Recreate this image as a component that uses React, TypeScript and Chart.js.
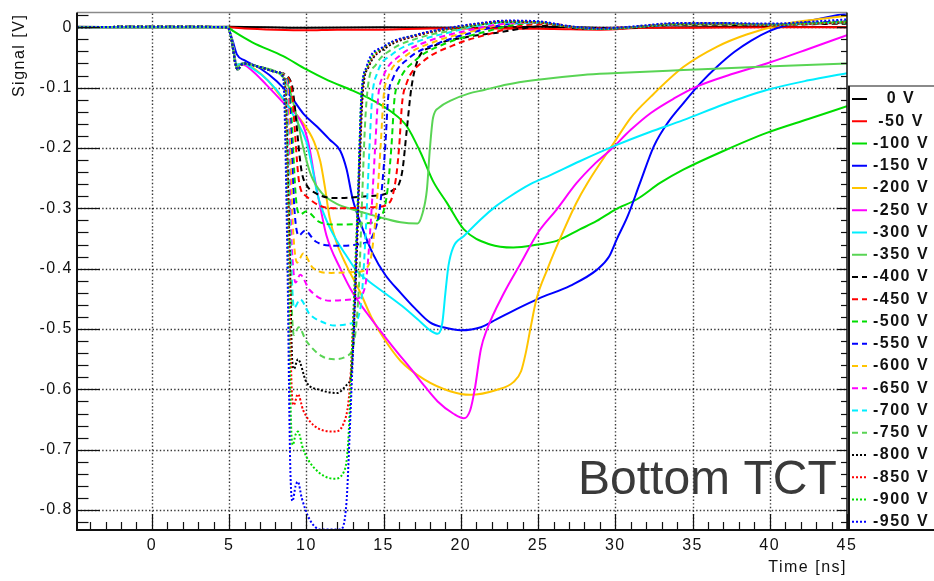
import React, { useEffect, useRef } from "react";
import { Chart, registerables } from "chart.js";

Chart.register(...registerables);

type P = [number, number];

// ---------------- axis ranges & ticks ----------------
const X_MIN = -4.85;
const X_MAX = 45;
const Y_MIN = -0.833;
const Y_MAX = 0.0226;

const xTickValues = [0, 5, 10, 15, 20, 25, 30, 35, 40, 45];
const xTickLabels = ["0", "5", "10", "15", "20", "25", "30", "35", "40", "45"];
const yTickValues = [-0.8, -0.7, -0.6, -0.5, -0.4, -0.3, -0.2, -0.1, 0];
const yTickLabels = ["-0.8", "-0.7", "-0.6", "-0.5", "-0.4", "-0.3", "-0.2", "-0.1", "0"];

const legendLabels = [
  "0 V", "-50 V", "-100 V", "-150 V", "-200 V", "-250 V", "-300 V", "-350 V",
  "-400 V", "-450 V", "-500 V", "-550 V", "-600 V", "-650 V", "-700 V", "-750 V",
  "-800 V", "-850 V", "-900 V", "-950 V",
];

// ---------------- data (time ns, signal V) ----------------
const v0: P[] = [[-4.85, 0.001], [0, 0], [5, 0.001], [10, -0.001], [15, 0], [20, -0.001], [25, 0.001], [30, -0.001], [35, 0], [40, 0.001], [45, 0]];
const v50: P[] = [[-4.85, 0], [5, 0], [6, -0.002], [8, -0.004], [10, -0.005], [12, -0.004], [15, -0.004], [18, -0.002], [22, -0.002], [26, -0.003], [29, -0.004], [32, -0.001], [35, -0.001], [40, 0], [45, 0]];
const v100: P[] = [[-4.85, 0], [4.9, 0], [5.3, -0.007], [6.5, -0.025], [8.5, -0.048], [10, -0.07], [11.4, -0.088], [13, -0.105], [14.3, -0.121], [15.5, -0.14], [16.5, -0.164], [17.4, -0.208], [18.2, -0.255], [19.1, -0.291], [20.2, -0.335], [21.9, -0.36], [23.4, -0.365], [25, -0.36], [26.2, -0.354], [27.7, -0.335], [28.8, -0.321], [30, -0.302], [31.4, -0.285], [32.9, -0.258], [34.4, -0.236], [37, -0.205], [39.8, -0.175], [42.5, -0.152], [45, -0.131]];
const v150: P[] = [[-4.85, 0], [4.9, 0], [5.2, -0.02], [5.5, -0.045], [6, -0.055], [7, -0.068], [8.1, -0.09], [9, -0.115], [9.8, -0.143], [10.7, -0.165], [11.5, -0.186], [12.2, -0.205], [12.6, -0.235], [13, -0.285], [13.5, -0.324], [14.3, -0.375], [15.1, -0.41], [16.1, -0.44], [17, -0.465], [18, -0.489], [19, -0.498], [20, -0.502], [21.3, -0.497], [22.3, -0.484], [23.6, -0.467], [25, -0.45], [27.1, -0.428], [28.8, -0.402], [29.6, -0.38], [30.1, -0.351], [30.8, -0.313], [31.6, -0.258], [32.5, -0.197], [33.4, -0.158], [34.4, -0.126], [35.5, -0.093], [36.6, -0.065], [37.7, -0.041], [38.8, -0.022], [40, -0.006], [40.9, 0.002], [43, 0.013], [45, 0.023]];
const v200: P[] = [[-4.85, 0], [4.9, 0], [5.2, -0.025], [5.5, -0.062], [5.9, -0.06], [6.7, -0.07], [7.5, -0.088], [8.5, -0.12], [9.8, -0.159], [10.5, -0.19], [10.9, -0.222], [11.2, -0.265], [11.5, -0.315], [12, -0.36], [12.6, -0.395], [13.5, -0.44], [14.2, -0.48], [15, -0.515], [16.1, -0.553], [17.6, -0.583], [19.3, -0.603], [20.6, -0.609], [22.3, -0.601], [23.4, -0.588], [23.9, -0.57], [24.2, -0.54], [24.5, -0.5], [24.9, -0.45], [25.6, -0.401], [26.6, -0.34], [27.5, -0.29], [28.2, -0.258], [29.9, -0.192], [31, -0.15], [32.3, -0.115], [34.4, -0.066], [36.6, -0.032], [38.5, -0.012], [40.9, 0.005], [43, 0.013], [45, 0.019]];
const v250: P[] = [[-4.85, 0], [4.9, 0], [5.2, -0.025], [5.5, -0.062], [5.9, -0.062], [6.4, -0.07], [7.4, -0.095], [8.5, -0.125], [9.8, -0.164], [10.2, -0.2], [10.5, -0.245], [10.9, -0.298], [11.3, -0.345], [12.2, -0.4], [13, -0.44], [13.9, -0.473], [15, -0.51], [15.9, -0.539], [16.8, -0.567], [17.6, -0.593], [18.5, -0.62], [19.5, -0.64], [20.2, -0.648], [20.6, -0.635], [20.9, -0.6], [21.3, -0.533], [21.7, -0.5], [22.8, -0.44], [23.9, -0.39], [25, -0.34], [26.2, -0.302], [27.5, -0.258], [28.6, -0.228], [29.7, -0.203], [31, -0.17], [32.3, -0.142], [33.8, -0.118], [35.3, -0.098], [37.5, -0.078], [39.8, -0.06], [42.5, -0.036], [45, -0.013]];
const v300: P[] = [[-4.85, 0], [4.9, 0], [5.2, -0.025], [5.5, -0.062], [5.9, -0.06], [6.5, -0.068], [7.5, -0.088], [8.5, -0.118], [9.2, -0.148], [10, -0.19], [10.4, -0.235], [10.7, -0.275], [11.3, -0.32], [12, -0.355], [12.6, -0.379], [13.3, -0.405], [14, -0.42], [15, -0.439], [16.2, -0.462], [17.2, -0.484], [18, -0.502], [18.5, -0.508], [18.8, -0.49], [19, -0.44], [19.2, -0.395], [19.5, -0.365], [20.2, -0.346], [21.3, -0.318], [22.3, -0.296], [23.2, -0.28], [24.5, -0.26], [25.8, -0.245], [27.7, -0.222], [30.1, -0.195], [32.2, -0.174], [34.4, -0.154], [37, -0.128], [39.8, -0.104], [42.5, -0.088], [45, -0.076]];
const v350: P[] = [[-4.85, 0], [4.9, 0], [5.2, -0.025], [5.5, -0.065], [5.9, -0.06], [7, -0.066], [8.3, -0.078], [8.8, -0.095], [9.3, -0.14], [9.8, -0.2], [10.3, -0.245], [11, -0.275], [12, -0.293], [13, -0.302], [14.5, -0.313], [16.1, -0.323], [17.2, -0.325], [17.5, -0.31], [17.8, -0.27], [18, -0.2], [18.2, -0.15], [18.6, -0.133], [19.3, -0.122], [20.5, -0.11], [21.5, -0.104], [23, -0.095], [24.7, -0.088], [27.9, -0.079], [30.1, -0.076], [34.4, -0.071], [39.8, -0.065], [45, -0.06]];

// common onset of the fast (dashed / dotted) signals
const groupOnset: P[] = [[-4.85, 0], [0, 0.001], [4.9, 0], [5.15, -0.02], [5.4, -0.06], [5.55, -0.07], [5.9, -0.06], [7, -0.066], [8.2, -0.075]];

const v400: P[] = [...groupOnset, [9, -0.09], [9.7, -0.24], [10, -0.261], [10.6, -0.275], [11.8, -0.283], [13.9, -0.28], [15.6, -0.27], [16.2, -0.24], [16.5, -0.17], [16.8, -0.1], [17.2, -0.055], [18.2, -0.032], [20.4, -0.016], [22.6, -0.008], [24.5, 0], [26, 0.003], [28, -0.003], [31, -0.001], [34, 0.004], [37, 0.004], [40, 0.003], [42.5, 0.005], [45, 0.006]];
const v450: P[] = [...groupOnset, [8.95, -0.09], [9.55, -0.26], [10, -0.28], [10.9, -0.296], [12, -0.3], [14.5, -0.298], [15.4, -0.29], [15.8, -0.25], [16, -0.2], [16.2, -0.125], [16.5, -0.092], [17.5, -0.058], [19.5, -0.03], [22, -0.01], [24, 0.003], [26, 0.005], [28, -0.002], [31, 0], [34, 0.005], [37, 0.005], [40, 0.004], [42.5, 0.006], [45, 0.007]];
const v500: P[] = [...groupOnset, [8.85, -0.09], [9.35, -0.29], [9.6, -0.31], [10, -0.305], [10.8, -0.322], [11.8, -0.327], [13.8, -0.325], [14.8, -0.315], [15.2, -0.28], [15.5, -0.2], [15.7, -0.12], [16, -0.09], [17, -0.056], [19, -0.027], [21.5, -0.008], [23.5, 0.004], [25, 0.007], [27, 0.001], [29, -0.003], [31, 0], [34, 0.005], [37, 0.005], [40, 0.004], [42.5, 0.006], [45, 0.008]];
const v550: P[] = [...groupOnset, [8.8, -0.09], [9.25, -0.31], [9.5, -0.345], [9.9, -0.337], [10.6, -0.355], [11.8, -0.362], [13.7, -0.358], [14.3, -0.345], [14.75, -0.3], [15.1, -0.2], [15.3, -0.115], [15.6, -0.085], [16.6, -0.052], [18.6, -0.026], [21, -0.007], [23, 0.005], [25, 0.008], [27, 0.001], [29, -0.003], [31, 0], [34, 0.005], [37, 0.006], [40, 0.004], [42.5, 0.007], [45, 0.01]];
const v600: P[] = [...groupOnset, [8.75, -0.09], [9.15, -0.34], [9.4, -0.39], [9.8, -0.375], [10.4, -0.398], [11.6, -0.407], [13.4, -0.405], [14.1, -0.39], [14.5, -0.31], [14.8, -0.2], [15, -0.115], [15.3, -0.082], [16.3, -0.05], [18.3, -0.024], [21, -0.005], [23, 0.006], [25, 0.008], [27, 0.001], [29, -0.003], [31, 0], [34, 0.005], [37, 0.006], [40, 0.004], [42.5, 0.006], [45, 0.008]];
const v650: P[] = [...groupOnset, [8.7, -0.09], [9.05, -0.36], [9.3, -0.423], [9.6, -0.41], [10.2, -0.435], [11.5, -0.453], [13.2, -0.45], [13.8, -0.43], [14.15, -0.33], [14.45, -0.2], [14.65, -0.115], [15, -0.08], [16, -0.048], [18, -0.022], [20.5, -0.005], [22.5, 0.005], [25, 0.008], [27, 0.001], [29, -0.003], [31, 0], [34, 0.005], [37, 0.006], [40, 0.004], [42.5, 0.006], [45, 0.008]];
const v700: P[] = [...groupOnset, [8.66, -0.09], [9, -0.38], [9.2, -0.465], [9.6, -0.451], [10.2, -0.475], [11, -0.488], [11.8, -0.494], [13, -0.49], [13.5, -0.465], [13.8, -0.36], [14.05, -0.22], [14.25, -0.12], [14.6, -0.075], [15.5, -0.046], [17.5, -0.021], [19.5, -0.007], [21, 0.002], [23, 0.008], [25, 0.008], [27, 0.001], [29, -0.003], [31, 0], [34, 0.005], [37, 0.006], [40, 0.004], [42.5, 0.006], [45, 0.008]];
const v750: P[] = [...groupOnset, [8.62, -0.088], [8.95, -0.38], [9.1, -0.49], [9.2, -0.51], [9.5, -0.497], [10, -0.52], [11, -0.545], [11.8, -0.55], [12.6, -0.545], [13.1, -0.52], [13.4, -0.43], [13.6, -0.29], [13.8, -0.16], [14, -0.095], [14.5, -0.062], [15.5, -0.037], [17.5, -0.016], [19.5, -0.005], [21, 0.003], [23, 0.009], [25, 0.008], [27, 0.001], [29, -0.003], [31, 0], [34, 0.005], [37, 0.006], [40, 0.004], [42.5, 0.006], [45, 0.008]];
const v800: P[] = [...groupOnset, [8.58, -0.085], [8.9, -0.35], [9.08, -0.55], [9.2, -0.566], [9.45, -0.55], [10, -0.588], [10.9, -0.601], [12, -0.606], [12.6, -0.593], [12.9, -0.575], [13.2, -0.42], [13.45, -0.23], [13.65, -0.11], [14.05, -0.065], [15.1, -0.035], [17.3, -0.013], [19, -0.004], [21, 0.004], [23, 0.009], [25, 0.008], [27, 0.001], [29, -0.003], [31, 0], [34, 0.005], [37, 0.006], [40, 0.004], [42.5, 0.006], [45, 0.008]];
const v850: P[] = [...groupOnset, [8.55, -0.085], [8.85, -0.35], [9.05, -0.6], [9.18, -0.626], [9.45, -0.608], [9.8, -0.635], [10.5, -0.66], [11.8, -0.67], [12.4, -0.657], [12.8, -0.6], [13.1, -0.45], [13.4, -0.25], [13.6, -0.115], [14, -0.065], [15, -0.034], [17.2, -0.013], [19, -0.003], [21, 0.005], [23, 0.01], [25, 0.008], [27, 0.001], [29, -0.003], [31, 0], [34, 0.006], [37, 0.006], [40, 0.004], [42.5, 0.006], [45, 0.009]];
const v900: P[] = [...groupOnset, [8.52, -0.085], [8.8, -0.35], [9, -0.65], [9.12, -0.692], [9.3, -0.675], [9.45, -0.67], [9.8, -0.7], [10.5, -0.73], [11.8, -0.748], [12.4, -0.738], [12.7, -0.69], [13.05, -0.47], [13.35, -0.27], [13.55, -0.12], [13.95, -0.065], [15, -0.033], [17.2, -0.012], [19, -0.003], [21, 0.005], [23, 0.01], [25, 0.009], [27, 0.001], [29, -0.003], [31, 0], [34, 0.006], [37, 0.006], [40, 0.005], [42.5, 0.007], [45, 0.01]];
const v950: P[] = [...groupOnset, [8.5, -0.085], [8.75, -0.35], [8.95, -0.72], [9.1, -0.785], [9.3, -0.76], [9.45, -0.753], [9.7, -0.78], [10.2, -0.815], [10.9, -0.832], [12.2, -0.832], [12.6, -0.786], [12.8, -0.675], [13.1, -0.48], [13.35, -0.28], [13.55, -0.12], [13.9, -0.065], [15, -0.032], [17.2, -0.012], [19, -0.002], [21, 0.006], [23, 0.011], [25, 0.01], [27, 0.002], [29, -0.002], [31, 0.001], [34, 0.007], [37, 0.007], [40, 0.006], [42.5, 0.009], [45, 0.013]];

const seriesData: P[][] = [v0, v50, v100, v150, v200, v250, v300, v350, v400, v450, v500, v550, v600, v650, v700, v750, v800, v850, v900, v950];

// ---------------- styles ----------------
const palette = ["#000000", "#ff0000", "#00dd00", "#0000ff", "#ffc400", "#ff00ff", "#00eeff", "#59d454"];
const dashStyles: number[][] = [[], [6, 4], [2, 2]];
const styleOf = (i: number) => ({ color: palette[i % 8], dash: dashStyles[Math.floor(i / 8)] });

const FONT = '"Liberation Sans", Arial, Helvetica, sans-serif';

const rootPlugin = {
  id: "rootStyle",
  beforeDraw(chart: any) {
    const ctx = chart.ctx;
    ctx.save();
    ctx.fillStyle = "#ffffff";
    ctx.fillRect(0, 0, chart.width, chart.height);
    ctx.restore();
    try { ctx.letterSpacing = "1.5px"; } catch (e) { /* ignore */ }
  },
  beforeDatasetsDraw(chart: any) {
    const ctx = chart.ctx;
    const { left, right, top, bottom } = chart.chartArea;
    const xs = chart.scales.x;
    const ys = chart.scales.y;
    ctx.save();
    ctx.strokeStyle = "rgba(20,20,20,0.85)";
    ctx.lineWidth = 1.4;
    ctx.setLineDash([1.4, 2.2]);
    for (const v of xTickValues) {
      if (v >= X_MAX) continue;
      const px = Math.round(xs.getPixelForValue(v)) + 0.5;
      ctx.beginPath(); ctx.moveTo(px, top); ctx.lineTo(px, bottom); ctx.stroke();
    }
    for (const v of yTickValues) {
      const py = Math.round(ys.getPixelForValue(v)) + 0.5;
      ctx.beginPath(); ctx.moveTo(left, py); ctx.lineTo(right, py); ctx.stroke();
    }
    ctx.restore();
  },
  afterDatasetsDraw(chart: any) {
    const ctx = chart.ctx;
    const { left, right, top, bottom } = chart.chartArea;
    const xs = chart.scales.x;
    const ys = chart.scales.y;
    ctx.save();
    ctx.setLineDash([]);
    // frame
    ctx.strokeStyle = "#8a8a8a";
    ctx.lineWidth = 1.5;
    ctx.beginPath(); ctx.moveTo(left, top - 1); ctx.lineTo(right, top - 1); ctx.stroke();
    ctx.strokeStyle = "#111";
    ctx.lineWidth = 2;
    ctx.beginPath(); ctx.moveTo(left, top - 1); ctx.lineTo(left, bottom); ctx.lineTo(right + 1, bottom); ctx.stroke();
    ctx.lineWidth = 1.5;
    ctx.beginPath(); ctx.moveTo(right, top - 1); ctx.lineTo(right, bottom); ctx.stroke();
    // ticks
    ctx.lineWidth = 1.2;
    ctx.strokeStyle = "#111";
    for (let k = Math.ceil(X_MIN); k <= X_MAX; k++) {
      const major = k % 5 === 0;
      const len = major ? 16 : 8;
      const px = Math.round(xs.getPixelForValue(k)) + 0.5;
      ctx.beginPath(); ctx.moveTo(px, bottom); ctx.lineTo(px, bottom - len); ctx.stroke();
    }
    for (let k = -41; k <= 1; k++) {
      const major = k % 5 === 0;
      const py = Math.round(ys.getPixelForValue(k * 0.02)) + 0.5;
      const len = major ? 23 : 11.5;
      ctx.beginPath(); ctx.moveTo(left, py); ctx.lineTo(left + len, py); ctx.stroke();
      const rlen = major ? 10 : 6;
      ctx.beginPath(); ctx.moveTo(right, py); ctx.lineTo(right - rlen, py); ctx.stroke();
    }
    // legend box
    const lx = 848;
    const ltop = 86;
    ctx.fillStyle = "#ffffff";
    ctx.fillRect(lx + 1, ltop, chart.width - lx, bottom - ltop);
    ctx.strokeStyle = "#8a8a8a";
    ctx.lineWidth = 2;
    ctx.beginPath(); ctx.moveTo(lx, ltop); ctx.lineTo(chart.width, ltop); ctx.stroke();
    ctx.strokeStyle = "#111";
    ctx.beginPath(); ctx.moveTo(lx + 1, ltop); ctx.lineTo(lx + 1, bottom + 1); ctx.stroke();
    ctx.beginPath(); ctx.moveTo(lx, bottom); ctx.lineTo(chart.width, bottom); ctx.stroke();
    try { ctx.letterSpacing = "1.5px"; } catch (e) { /* ignore */ }
    ctx.font = `bold 16px ${FONT}`;
    ctx.textAlign = "center";
    ctx.textBaseline = "middle";
    legendLabels.forEach((label, i) => {
      const y = 99 + 22.25 * i;
      const st = styleOf(i);
      ctx.strokeStyle = st.color;
      ctx.lineWidth = 2;
      ctx.setLineDash(st.dash);
      ctx.beginPath(); ctx.moveTo(852, y); ctx.lineTo(867, y); ctx.stroke();
      ctx.setLineDash([]);
      ctx.fillStyle = "#111";
      ctx.fillText(label, 901, y);
    });
    // annotation
    try { ctx.letterSpacing = "0px"; } catch (e) { /* ignore */ }
    ctx.font = `48px ${FONT}`;
    ctx.textAlign = "left";
    ctx.textBaseline = "alphabetic";
    ctx.fillStyle = "#3a3a3a";
    ctx.fillText("Bottom TCT", 578, 494);
    ctx.restore();
    try { ctx.letterSpacing = "1.5px"; } catch (e) { /* ignore */ }
  },
};

export default function App() {
  const ref = useRef<HTMLCanvasElement | null>(null);
  useEffect(() => {
    if (!ref.current) return;
    const n = seriesData.length;
    const chart = new Chart(ref.current, {
      type: "line",
      data: {
        datasets: seriesData.map((d, i) => {
          const st = styleOf(i);
          return {
            label: legendLabels[i],
            data: d,
            borderColor: st.color,
            backgroundColor: st.color,
            borderDash: st.dash,
            borderWidth: 2,
            pointRadius: 0,
            fill: false,
            cubicInterpolationMode: "monotone",
            order: n - 1 - i,
          };
        }),
      } as any,
      options: {
        animation: false,
        responsive: false,
        devicePixelRatio: 1,
        parsing: true,
        layout: { padding: { left: 0, right: 87, top: 10, bottom: 0 } },
        plugins: { legend: { display: false }, tooltip: { enabled: false } },
        scales: {
          x: {
            type: "linear",
            min: X_MIN,
            max: X_MAX,
            grid: { display: false, drawTicks: false },
            border: { display: false },
            afterBuildTicks: (s: any) => { s.ticks = xTickValues.map((v) => ({ value: v })); },
            afterFit: (s: any) => { s.height = 51; },
            ticks: {
              autoSkip: false,
              maxRotation: 0,
              padding: 6,
              color: "#111",
              font: { family: FONT, size: 16 },
              callback: (v: any) => { const k = xTickValues.indexOf(v); return k >= 0 ? xTickLabels[k] : ""; },
            },
            title: { display: true, text: "Time [ns]", align: "end", color: "#111", font: { family: FONT, size: 16 }, padding: { top: 0, bottom: 4 } },
          },
          y: {
            type: "linear",
            min: Y_MIN,
            max: Y_MAX,
            grid: { display: false, drawTicks: false },
            border: { display: false },
            afterBuildTicks: (s: any) => { s.ticks = yTickValues.map((v) => ({ value: v })); },
            afterFit: (s: any) => { s.width = 77; },
            ticks: {
              autoSkip: false,
              padding: 4,
              color: "#111",
              font: { family: FONT, size: 16 },
              callback: (v: any) => { const k = yTickValues.indexOf(v); return k >= 0 ? yTickLabels[k] : ""; },
            },
            title: { display: true, text: "Signal [V]", align: "end", color: "#111", font: { family: FONT, size: 16 }, padding: { top: 10, bottom: 0 } },
          },
        },
      } as any,
      plugins: [rootPlugin],
    });
    return () => chart.destroy();
  }, []);
  return (
    <div style={{ position: "fixed", left: 0, top: 0, width: 934, height: 581, background: "#fff" }}>
      <canvas ref={ref} width={934} height={581} style={{ display: "block", width: 934, height: 581 }} />
    </div>
  );
}
